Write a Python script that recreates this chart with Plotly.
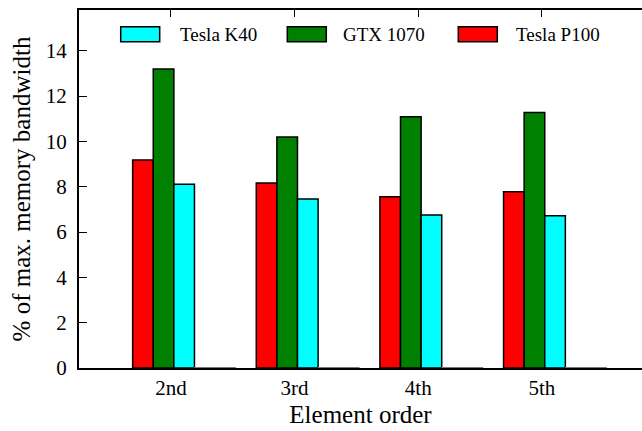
import plotly.graph_objects as go

# ---- data ----
categories = ["2nd", "3rd", "4th", "5th"]
p100 = [9.18, 8.16, 7.56, 7.78]
gtx1070 = [13.2, 10.19, 11.09, 11.28]
k40 = [8.11, 7.46, 6.75, 6.72]
empty = [0.02, 0.02, 0.02, 0.02]   # near-zero trailing series
y_ticks = [0, 2, 4, 6, 8, 10, 12, 14]

series_names = ["Tesla P100", "GTX 1070", "Tesla K40"]
series_colors = ["#FF0000", "#008000", "#00FFFF"]

FONT = "'Liberation Serif', 'Times New Roman', serif"
W, H = 642, 431
ML, MR, MT, MB = 79, 0, 10, 63

xpos = list(range(len(categories)))
bw = 1 / 6.0
base_off = -0.31

fig = go.Figure()
for i, (name, vals, col) in enumerate(zip(series_names, [p100, gtx1070, k40], series_colors)):
    fig.add_trace(go.Bar(
        x=xpos, y=vals, name=name, width=bw, offset=base_off + i * bw,
        marker=dict(color=col, line=dict(color="#000000", width=1.5)),
        showlegend=False,
    ))
fig.add_trace(go.Bar(
    x=xpos, y=empty, name="", width=2 * bw, offset=base_off + 3 * bw,
    marker=dict(color="#FFFFFF", line=dict(color="#777777", width=1)),
    showlegend=False, hoverinfo="skip",
))

# ---- custom legend (wide rectangular swatches as in reference) ----
plot_w = W - ML - MR
plot_h = H - MT - MB
def px2x(px):
    return (px - ML) / plot_w
def py2y(py):
    return (H - MB - py) / plot_h

legend_items = [
    ("Tesla K40", "#00FFFF", 120.7, 177.5),
    ("GTX 1070", "#008000", 287.3, 341.0),
    ("Tesla P100", "#FF0000", 458.3, 513.5),
]
shapes = []
annotations = []
for label, col, sx, tx in legend_items:
    shapes.append(dict(
        type="rect", xref="paper", yref="paper",
        x0=px2x(sx), x1=px2x(sx + 39), y0=py2y(41.7), y1=py2y(26.7),
        fillcolor=col, line=dict(color="#000000", width=1.5), layer="above",
    ))
    annotations.append(dict(
        text=label, xref="paper", yref="paper", x=px2x(tx), y=py2y(34.5),
        xanchor="left", yanchor="middle", showarrow=False,
        font=dict(family=FONT, size=19, color="#000000"),
    ))

fig.update_layout(
    width=W, height=H,
    margin=dict(l=ML, r=MR, t=MT, b=MB, pad=0),
    plot_bgcolor="#FFFFFF", paper_bgcolor="#FFFFFF",
    font=dict(family=FONT, color="#000000"),
    barmode="overlay",
    shapes=shapes, annotations=annotations,
    showlegend=False,
)
fig.update_xaxes(
    range=[-0.744, 3.81],
    tickmode="array", tickvals=xpos, ticktext=categories,
    ticks="inside", ticklen=7, tickwidth=1, tickcolor="#000000",
    showline=True, linecolor="#000000", linewidth=2, mirror="ticks",
    showgrid=False, zeroline=False, layer="below traces",
    tickfont=dict(family=FONT, size=21, color="#000000"),
    title=dict(text="Element order", font=dict(family=FONT, size=25, color="#000000"), standoff=6),
)
fig.update_yaxes(
    range=[0, 15.8],
    tickmode="array", tickvals=y_ticks,
    ticks="inside", ticklen=8, tickwidth=1, tickcolor="#000000",
    showline=True, linecolor="#000000", linewidth=2, mirror=False,
    showgrid=False, zeroline=False,
    ticklabelstandoff=6,
    tickfont=dict(family=FONT, size=21, color="#000000"),
    title=dict(text="% of max. memory bandwidth", font=dict(family=FONT, size=25, color="#000000"), standoff=8),
)

fig.write_html("out.html")
